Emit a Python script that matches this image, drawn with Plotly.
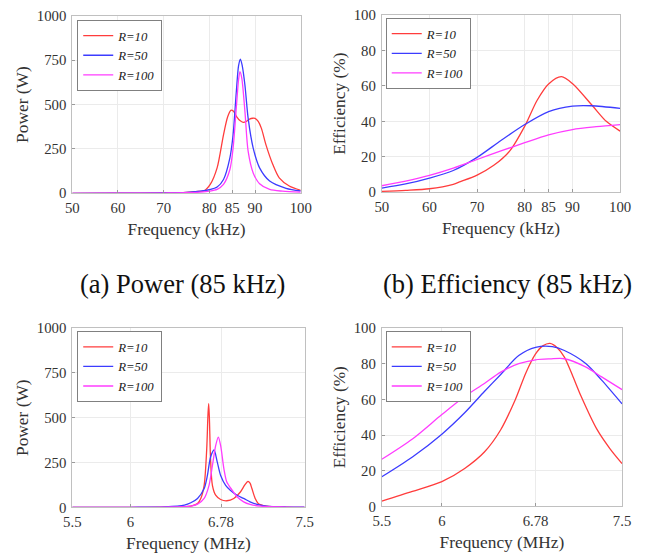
import plotly.graph_objects as go

# ---------------- data ----------------
series_names = ["R=10", "R=50", "R=100"]

# (a) Power, 85 kHz
p85_f_r10 = [50, 60, 70, 75, 77.5, 78.8, 80.2, 81.7, 83.1, 84.0, 84.7, 85.3, 86.0, 86.7, 87.4, 88.1, 88.8, 89.5, 90.0, 90.7, 91.4, 92.4, 93.9, 95.3, 97.5, 100]
p85_p_r10 = [0, 0.5, 2, 5, 10, 13, 50, 143, 330, 430, 468, 462, 431, 410, 400, 405, 418, 423, 422, 405, 366, 273, 162, 87, 41, 17]
p85_f_r50 = [50, 60, 70, 75, 78, 80, 81.7, 83.1, 84.5, 85.2, 85.9, 86.4, 86.8, 87.2, 87.8, 88.5, 89.6, 91, 93.2, 96.8, 100]
p85_p_r50 = [0, 0.5, 2, 5, 12, 20, 35, 78, 200, 330, 570, 720, 757, 720, 608, 422, 255, 143, 69, 28, 13]
p85_f_r100 = [50, 60, 70, 75, 78, 80, 81.7, 83.1, 84.5, 85.2, 86.0, 86.4, 86.7, 87.1, 87.8, 88.5, 89.6, 91, 93.2, 96, 100]
p85_p_r100 = [0, 0.3, 1.5, 3, 7, 12, 22, 50, 134, 255, 515, 640, 686, 650, 459, 236, 115, 54, 22, 12, 7]

# (b) Efficiency, 85 kHz
e85_f_r10 = [50, 55, 60, 65, 66.5, 70, 73.5, 76.9, 80, 82.6, 85, 87.7, 90.1, 94.3, 97.1, 100]
e85_e_r10 = [0.5, 1.1, 2, 4.5, 6, 9.7, 15.2, 23.5, 37.3, 51.9, 61.1, 65.2, 61.1, 48.5, 40, 34.5]
e85_f_r50 = [50, 55, 60, 65, 70, 75, 80, 85, 90, 94, 100]
e85_e_r50 = [2.4, 4.7, 8, 12.3, 19.7, 29.2, 38.2, 45.5, 48.6, 48.8, 47.3]
e85_f_r100 = [50, 55, 60, 65, 70, 75, 80, 85, 90, 95, 100]
e85_e_r100 = [3.7, 6.3, 9.5, 13.6, 18.5, 23.3, 28, 32.4, 35.4, 37, 38.2]

# (c) Power, 6.78 MHz
p678_f_r10 = [5.5, 6.0, 6.3, 6.45, 6.52, 6.578, 6.606, 6.635, 6.657, 6.668, 6.674, 6.68, 6.69, 6.706, 6.734, 6.777, 6.83, 6.89, 6.947, 6.985, 7.012, 7.03, 7.046, 7.074, 7.1, 7.17, 7.34, 7.5]
p678_p_r10 = [0, 0, 1, 3, 7, 22, 50, 123, 325, 520, 579, 500, 270, 123, 68, 44, 37, 50, 86, 125, 145, 135, 105, 50, 22, 7, 2, 0.5]
p678_f_r50 = [5.5, 6.0, 6.3, 6.465, 6.52, 6.578, 6.635, 6.663, 6.69, 6.72, 6.748, 6.777, 6.82, 6.86, 6.918, 6.975, 7.03, 7.09, 7.17, 7.34, 7.5]
p678_p_r50 = [0, 0.5, 3, 13, 26, 50, 105, 178, 280, 320, 252, 178, 123, 96, 68, 50, 31, 17, 7, 2, 1]
p678_f_r100 = [5.5, 6.0, 6.3, 6.52, 6.578, 6.635, 6.677, 6.706, 6.734, 6.757, 6.777, 6.805, 6.83, 6.876, 6.918, 6.975, 7.03, 7.117, 7.34, 7.5]
p678_p_r100 = [0, 0.3, 2, 7, 18, 50, 123, 233, 344, 392, 344, 215, 141, 96, 59, 31, 17, 7, 2, 0.5]

# (d) Efficiency, 6.78 MHz
e678_f_r10 = [5.5, 5.755, 6.0, 6.19, 6.354, 6.49, 6.612, 6.7, 6.78, 6.84, 6.9, 6.96, 7.02, 7.09, 7.16, 7.29, 7.4, 7.5]
e678_e_r10 = [3, 8.4, 13.9, 21.3, 30.5, 43, 60, 75, 85.5, 90, 91.4, 89, 83.7, 73, 61.6, 43.3, 32.3, 24]
e678_f_r50 = [5.5, 5.755, 6.0, 6.19, 6.354, 6.49, 6.64, 6.78, 6.92, 7.02, 7.2, 7.33, 7.5]
e678_e_r50 = [16.6, 27.7, 40.5, 52.5, 64.4, 74, 84.6, 89.2, 89.6, 87.4, 80, 70.8, 57.5]
e678_f_r100 = [5.5, 5.755, 6.0, 6.19, 6.354, 6.49, 6.64, 6.78, 6.9, 7.02, 7.2, 7.33, 7.5]
e678_e_r100 = [26.4, 37.8, 51.5, 61.6, 68.9, 75.3, 80, 82.2, 82.7, 82.8, 78.1, 72.6, 65.5]

khz_ticks = [50, 60, 70, 80, 85, 90, 100]
mhz_ticks = [5.5, 6, 6.78, 7.5]
power_ticks = [0, 250, 500, 750, 1000]
eff_ticks = [0, 20, 40, 60, 80, 100]
captions = ["(a) Power (85 kHz)", "(b) Efficiency (85 kHz)"]

# ---------------- styling ----------------
colors = ["rgb(255,60,60)", "rgb(60,60,255)", "rgb(255,60,255)"]
FONT = "Liberation Serif, DejaVu Serif, serif"
TXT = "#333333"
W, H = 646, 553
# the photographed page shows the figure slightly reduced and offset; compensate
SX, OX, SY, OY = 0.98, 3.0, 0.98, 5.0
K = 1 / 0.98


def fx(px):
    return (px - OX) / SX / W


def fy(py):
    return 1 - (py - OY) / SY / H


panels = [
    dict(xd=[fx(67), fx(298)], yd=[fy(192), fy(13)],
         data=[(p85_f_r10, p85_p_r10), (p85_f_r50, p85_p_r50), (p85_f_r100, p85_p_r100)],
         xr=[50, 100], xt=khz_ticks, yr=[0, 1000], yt=power_ticks,
         yti="Power (W)", xti="Frequency (kHz)", lg=(fx(72), fy(17))),
    dict(xd=[fx(380), fx(621)], yd=[fy(191), fy(12)],
         data=[(e85_f_r10, e85_e_r10), (e85_f_r50, e85_e_r50), (e85_f_r100, e85_e_r100)],
         xr=[50, 100], xt=khz_ticks, yr=[0, 100], yt=eff_ticks,
         yti="Efficiency (%)", xti="Frequency (kHz)", lg=(fx(384), fy(15))),
    dict(xd=[fx(67), fx(302)], yd=[fy(509), fy(328)],
         data=[(p678_f_r10, p678_p_r10), (p678_f_r50, p678_p_r50), (p678_f_r100, p678_p_r100)],
         xr=[5.5, 7.5], xt=mhz_ticks, yr=[0, 1000], yt=power_ticks,
         yti="Power (W)", xti="Frequency (MHz)", lg=(fx(72), fy(331))),
    dict(xd=[fx(380), fx(623)], yd=[fy(508), fy(328)],
         data=[(e678_f_r10, e678_e_r10), (e678_f_r50, e678_e_r50), (e678_f_r100, e678_e_r100)],
         xr=[5.5, 7.5], xt=mhz_ticks, yr=[0, 100], yt=eff_ticks,
         yti="Efficiency (%)", xti="Frequency (MHz)", lg=(fx(384), fy(331))),
]

fig = go.Figure()
layout = dict(
    width=W, height=H, margin=dict(l=0, r=0, t=0, b=0),
    paper_bgcolor="white", plot_bgcolor="white",
    font=dict(family=FONT, size=14, color=TXT),
    showlegend=True,
)

for i, pn in enumerate(panels):
    n = i + 1
    xa = "xaxis" if n == 1 else f"xaxis{n}"
    ya = "yaxis" if n == 1 else f"yaxis{n}"
    xref = "x" if n == 1 else f"x{n}"
    yref = "y" if n == 1 else f"y{n}"
    lgname = "legend" if n == 1 else f"legend{n}"
    for (sx_, sy_), name, c in zip(pn["data"], series_names, colors):
        fig.add_trace(go.Scatter(
            x=sx_, y=sy_, mode="lines", name=name,
            line=dict(color=c, width=1.3, shape="spline", smoothing=0.8),
            xaxis=xref, yaxis=yref, legend=lgname,
        ))
    common = dict(showgrid=True, gridcolor="#ebebeb", gridwidth=1,
                  showline=True, linecolor="#c0c0c0", linewidth=1, mirror=True,
                  ticks="inside", ticklen=3, tickcolor="#9a9a9a",
                  zeroline=False, tickfont=dict(family=FONT, size=14.5 * K, color=TXT))
    layout[xa] = dict(domain=pn["xd"], anchor=yref, range=pn["xr"],
                      tickmode="array", tickvals=pn["xt"],
                      ticktext=[str(t) for t in pn["xt"]], ticklabelstandoff=1,
                      title=dict(text=pn["xti"], font=dict(family=FONT, size=17 * K, color=TXT), standoff=7),
                      **common)
    layout[ya] = dict(domain=pn["yd"], anchor=xref, range=pn["yr"],
                      tickmode="array", tickvals=pn["yt"], ticklabelstandoff=2,
                      title=dict(text=pn["yti"], font=dict(family=FONT, size=17 * K, color=TXT), standoff=3),
                      **common)
    layout[lgname] = dict(x=pn["lg"][0], y=pn["lg"][1], xref="paper", yref="paper",
                          xanchor="left", yanchor="top",
                          bgcolor="white", bordercolor="#808080", borderwidth=1,
                          font=dict(family=FONT, size=12.5 * K, color="#222222", style="italic"),
                          itemwidth=30, tracegroupgap=0)

fig.update_layout(**layout)

for txt, cx in zip(captions, [fx(178), fx(507)]):
    fig.add_annotation(text=txt, x=cx, y=fy(284), xref="paper", yref="paper",
                       showarrow=False, xanchor="center", yanchor="middle",
                       font=dict(family=FONT, size=26 * K, color="#111111"))

fig.write_html("out.html",
               config={"displayModeBar": False},
               post_script="document.body.style.margin='0';document.body.style.overflow='hidden';")
